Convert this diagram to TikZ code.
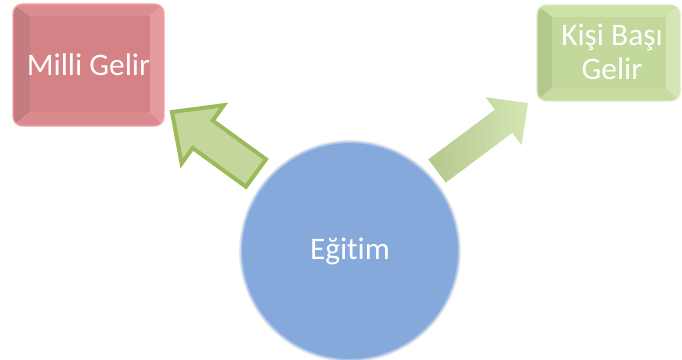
\documentclass[tikz,border=0pt]{standalone}
\usepackage{fontspec}
\setmainfont{Carlito}[Ligatures=NoCommon]
\definecolor{redc}{HTML}{D48286}
\definecolor{redt}{HTML}{DC8D91}
\definecolor{redl}{HTML}{C47C80}
\definecolor{redr}{HTML}{E69A9E}
\definecolor{redb}{HTML}{D98B8F}
\definecolor{redo}{HTML}{F2A4A8}
\definecolor{grc}{HTML}{C3D89B}
\definecolor{grt}{HTML}{CEE1AA}
\definecolor{grl}{HTML}{B3C88D}
\definecolor{grr}{HTML}{D5E6B4}
\definecolor{grb}{HTML}{C8DBA3}
\definecolor{gro}{HTML}{DDEBC3}
\definecolor{arrfill}{HTML}{C3D69B}
\definecolor{arrline}{HTML}{9BBB59}
\definecolor{bluec}{HTML}{85A9DA}
\definecolor{bluer}{HTML}{A9C5EB}
\tikzset{
  lbl/.style={text=white, font=\fontsize{23.5}{26}\selectfont, align=center},
}
\begin{document}
\begin{tikzpicture}[x=0.75pt, y=-0.75pt]
\useasboundingbox (0,0) rectangle (682,360);
% red box
\begin{scope}
\clip[rounded corners=7] (13,4) rectangle (164,126);
\fill[redt] (13,4)--(164,4)--(150,16)--(30,16)--cycle;
\fill[redl] (13,4)--(30,16)--(30,112)--(13,126)--cycle;
\fill[redr] (164,4)--(164,126)--(150,112)--(150,16)--cycle;
\fill[redb] (13,126)--(164,126)--(150,112)--(30,112)--cycle;
\fill[redc] (30,16) rectangle (150,112);
\end{scope}
\draw[redo, line width=1pt, rounded corners=7] (13,4) rectangle (164,126);
\node[lbl, minimum width=113pt, minimum height=91pt] (milli) at (88.5,65) {Milli Gelir};
% green box
\begin{scope}
\clip[rounded corners=7] (537,5) rectangle (680,101);
\fill[grt] (537,5)--(680,5)--(666,17)--(552,17)--cycle;
\fill[grl] (537,5)--(552,17)--(552,88)--(537,101)--cycle;
\fill[grr] (680,5)--(680,101)--(666,88)--(666,17)--cycle;
\fill[grb] (537,101)--(680,101)--(666,88)--(552,88)--cycle;
\fill[grc] (552,17) rectangle (666,88);
\end{scope}
\draw[gro, line width=1pt, rounded corners=7] (537,5) rectangle (680,101);
\node[lbl, minimum width=107pt, minimum height=72pt, font=\fontsize{23.5}{25.5}\selectfont] (kisi) at (612,52) {Kişi Başı\\Gelir};
% circle
\fill[gray!18] (350,251) circle (111);
\node[circle, fill=bluec, draw=bluer, line width=1.2pt, minimum size=163pt, inner sep=0pt, lbl] (egitim) at (350,251) {Eğitim};
% left arrow
\draw[fill=arrfill, draw=arrline, line width=3pt, line join=miter]
  (172,112)--(223.8,105.2)--(212.7,120.6)--(266,159.3)--(246,186.7)--(192.7,148)--(181.6,163.4)--cycle;
% right arrow
\shade[left color=grl, right color=grr, shading angle=90]
  (528,103)--(521.6,145.3)--(512.3,132.9)--(445.7,182.6)--(428.3,159.4)--(494.9,109.7)--(485.6,97.3)--cycle;
\end{tikzpicture}
\end{document}
